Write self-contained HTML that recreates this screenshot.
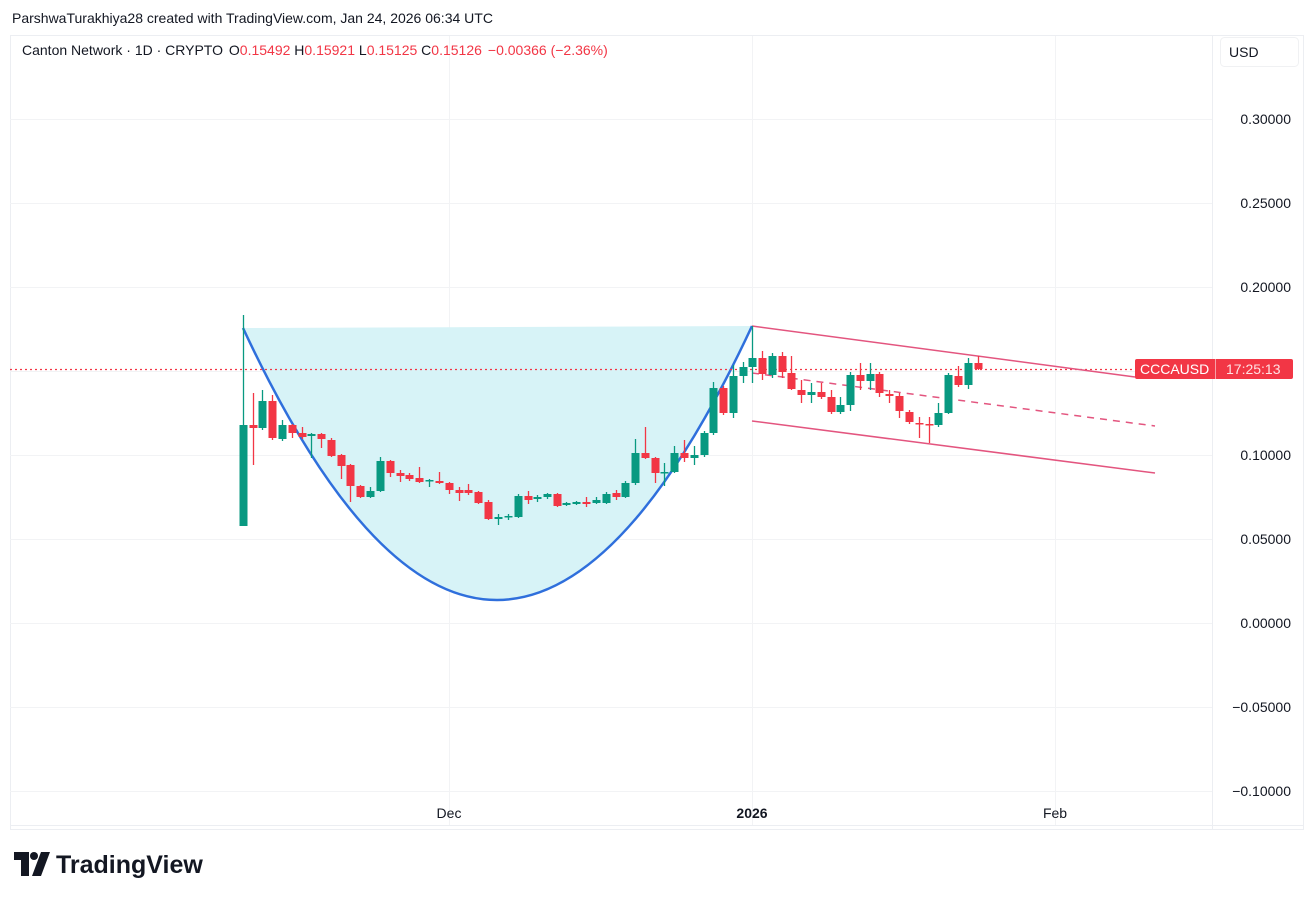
<!DOCTYPE html>
<html><head><meta charset="utf-8">
<style>
html,body{margin:0;padding:0;background:#fff;width:1316px;height:899px;overflow:hidden;font-family:"Liberation Sans",sans-serif;}
svg{position:absolute;left:0;top:0}
</style></head><body>
<svg width="1316" height="899" viewBox="0 0 1316 899" xmlns="http://www.w3.org/2000/svg" font-family="Liberation Sans, sans-serif">
<text x="12" y="23" font-size="14" fill="#131722">ParshwaTurakhiya28 created with TradingView.com, Jan 24, 2026 06:34 UTC</text>
<rect x="10.5" y="35.5" width="1293" height="794" fill="none" stroke="#eceef2"/>
<line x1="1212.5" y1="36" x2="1212.5" y2="829" stroke="#eceef2"/>
<line x1="10" y1="825.5" x2="1303" y2="825.5" stroke="#eceef2"/>
<g stroke="#f2f3f5">
<line x1="10" y1="119.5" x2="1212" y2="119.5"/><line x1="10" y1="203.5" x2="1212" y2="203.5"/>
<line x1="10" y1="287.5" x2="1212" y2="287.5"/><line x1="10" y1="371.5" x2="1212" y2="371.5"/>
<line x1="10" y1="455.5" x2="1212" y2="455.5"/><line x1="10" y1="539.5" x2="1212" y2="539.5"/>
<line x1="10" y1="623.5" x2="1212" y2="623.5"/><line x1="10" y1="707.5" x2="1212" y2="707.5"/>
<line x1="10" y1="791.5" x2="1212" y2="791.5"/>
<line x1="449.5" y1="36" x2="449.5" y2="825"/><line x1="752.5" y1="36" x2="752.5" y2="825"/><line x1="1055.5" y1="36" x2="1055.5" y2="825"/>
</g>
<g font-size="14" fill="#131722" text-anchor="end">
<text x="1291" y="124">0.30000</text><text x="1291" y="208">0.25000</text><text x="1291" y="292">0.20000</text>
<text x="1291" y="460">0.10000</text><text x="1291" y="544">0.05000</text><text x="1291" y="628">0.00000</text>
<text x="1291" y="712">−0.05000</text><text x="1291" y="796">−0.10000</text>
</g>
<g font-size="14" fill="#131722" text-anchor="middle">
<text x="449" y="818">Dec</text><text x="752" y="818" font-weight="bold">2026</text><text x="1055" y="818">Feb</text>
</g>
<rect x="1220.5" y="37.5" width="78" height="29" rx="4" fill="#fff" stroke="#f0f1f3"/>
<text x="1229" y="57" font-size="14" fill="#131722">USD</text>
<text x="22" y="55" font-size="14" fill="#131722">Canton Network · 1D · CRYPTO <tspan dx="2">O</tspan><tspan fill="#f23645">0.15492</tspan> H<tspan fill="#f23645">0.15921</tspan> L<tspan fill="#f23645">0.15125</tspan> C<tspan fill="#f23645">0.15126</tspan><tspan fill="#f23645" dx="6">−0.00366 (−2.36%)</tspan></text>
<path d="M243,328 L752,326 Q497,873 243,328 Z" fill="#d7f3f7"/>
<path d="M243,328 Q497,873 752,326" fill="none" stroke="#2f6fdc" stroke-width="2.5"/>
<line x1="10" y1="369.5" x2="1135" y2="369.5" stroke="#f23645" stroke-width="1.2" stroke-dasharray="2,3"/>
<g stroke="#e3557f" stroke-width="1.5" fill="none">
<line x1="752" y1="326" x2="1135" y2="377"/>
<line x1="752" y1="421" x2="1155" y2="473"/>
<line x1="752" y1="373" x2="1155" y2="426" stroke-dasharray="7,6"/>
</g>
<g id="c"></g>
<rect x="1135" y="359" width="158" height="20" rx="2" fill="#f23645"/>
<line x1="1215.5" y1="359" x2="1215.5" y2="379" stroke="#f7a0a8"/>
<text x="1140" y="374" font-size="14" fill="#fff">CCCAUSD</text>
<text x="1226" y="374" font-size="14" fill="#ffe1e3">17:25:13</text>
<g transform="translate(14,852)">
<path d="M0,0 H15 V24 H7 V8 H0 Z" fill="#131722"/>
<circle cx="20" cy="4" r="4" fill="#131722"/>
<path d="M27,0 H36 L27,24 H18 Z" fill="#131722"/>
<text x="42" y="21" font-size="25" font-weight="bold" fill="#131722">TradingView</text>
</g>
</svg>
<script>
var G='#089981',R='#f23645';
var d=[
[243,G,425,526,315,526],[253,R,425,428,393,465],[262,G,401,428,390,430],[272,R,401,438,395,440],[282,G,425,439,420,441],
[292,R,425,433,424,438],[302,R,433,437,427,439],[311,G,434,436,433,458],[321,R,434,439,433,448],[331,R,440,456,438,457],
[341,R,455,466,454,479],[350,R,465,486,464,502],[360,R,486,497,485,498],[370,G,491,497,487,498],[380,G,461,491,457,492],
[390,R,461,473,460,477],[400,R,473,476,470,482],[409,R,475,479,473,481],[419,R,478,482,467,483],[429,G,480,481,479,487],
[439,R,481,483,472,484],[449,R,483,490,482,494],[459,R,490,493,487,501],[468,R,490,493,484,495],[478,R,492,503,491,504],
[488,R,502,519,500,520],[498,G,517,519,514,525],[508,G,516,517,514,520],[518,G,496,517,494,518],[528,R,496,500,491,504],
[537,G,497,499,495,502],[547,G,494,497,493,499],[557,R,494,506,493,507],[566,G,503,505,502,506],[576,G,502,504,501,505],
[586,R,502,504,497,507],[596,G,500,503,497,504],[606,G,494,503,492,504],[616,R,493,497,490,500],[625,G,483,497,481,498],
[635,G,453,483,439,485],[645,R,453,458,427,459],[655,R,458,473,457,483],[664,G,472,473,463,486],[674,G,453,472,446,473],
[684,R,453,458,440,462],[694,G,455,458,446,465],[704,G,433,455,431,457],[713,G,388,433,382,435],[723,R,388,413,386,415],
[733,G,376,413,365,418],[743,G,367,376,362,383],[752,G,358,367,326,383],[762,R,358,374,351,380],[772,G,356,375,353,378],
[782,R,356,372,352,378],[791,R,373,389,356,390],[801,R,390,395,380,403],[811,G,392,395,383,403],[821,R,392,397,383,399],
[831,R,397,412,390,414],[840,G,405,412,397,414],[850,G,375,405,372,411],[860,R,375,381,363,390],[870,G,374,381,363,390],
[879,R,374,393,372,397],[889,R,394,396,390,403],[899,R,396,411,393,418],[909,R,412,422,410,424],[919,R,423,424,417,438],
[929,R,424,425,417,443],[938,G,413,425,403,427],[948,G,375,413,373,414],[958,R,376,385,366,387],[968,G,363,385,358,389],
[978,R,363,369,356,370]];
var s='';d.forEach(function(c){var x=c[0];s+='<line x1="'+(x+0.5)+'" x2="'+(x+0.5)+'" y1="'+c[4]+'" y2="'+c[5]+'" stroke="'+c[1]+'" stroke-width="1.3"/>';
var h=Math.max(1.5,c[3]-c[2]);s+='<rect x="'+(x-3.5)+'" y="'+c[2]+'" width="8" height="'+h+'" fill="'+c[1]+'"/>';});
document.getElementById('c').innerHTML=s;
</script>
</body></html>
